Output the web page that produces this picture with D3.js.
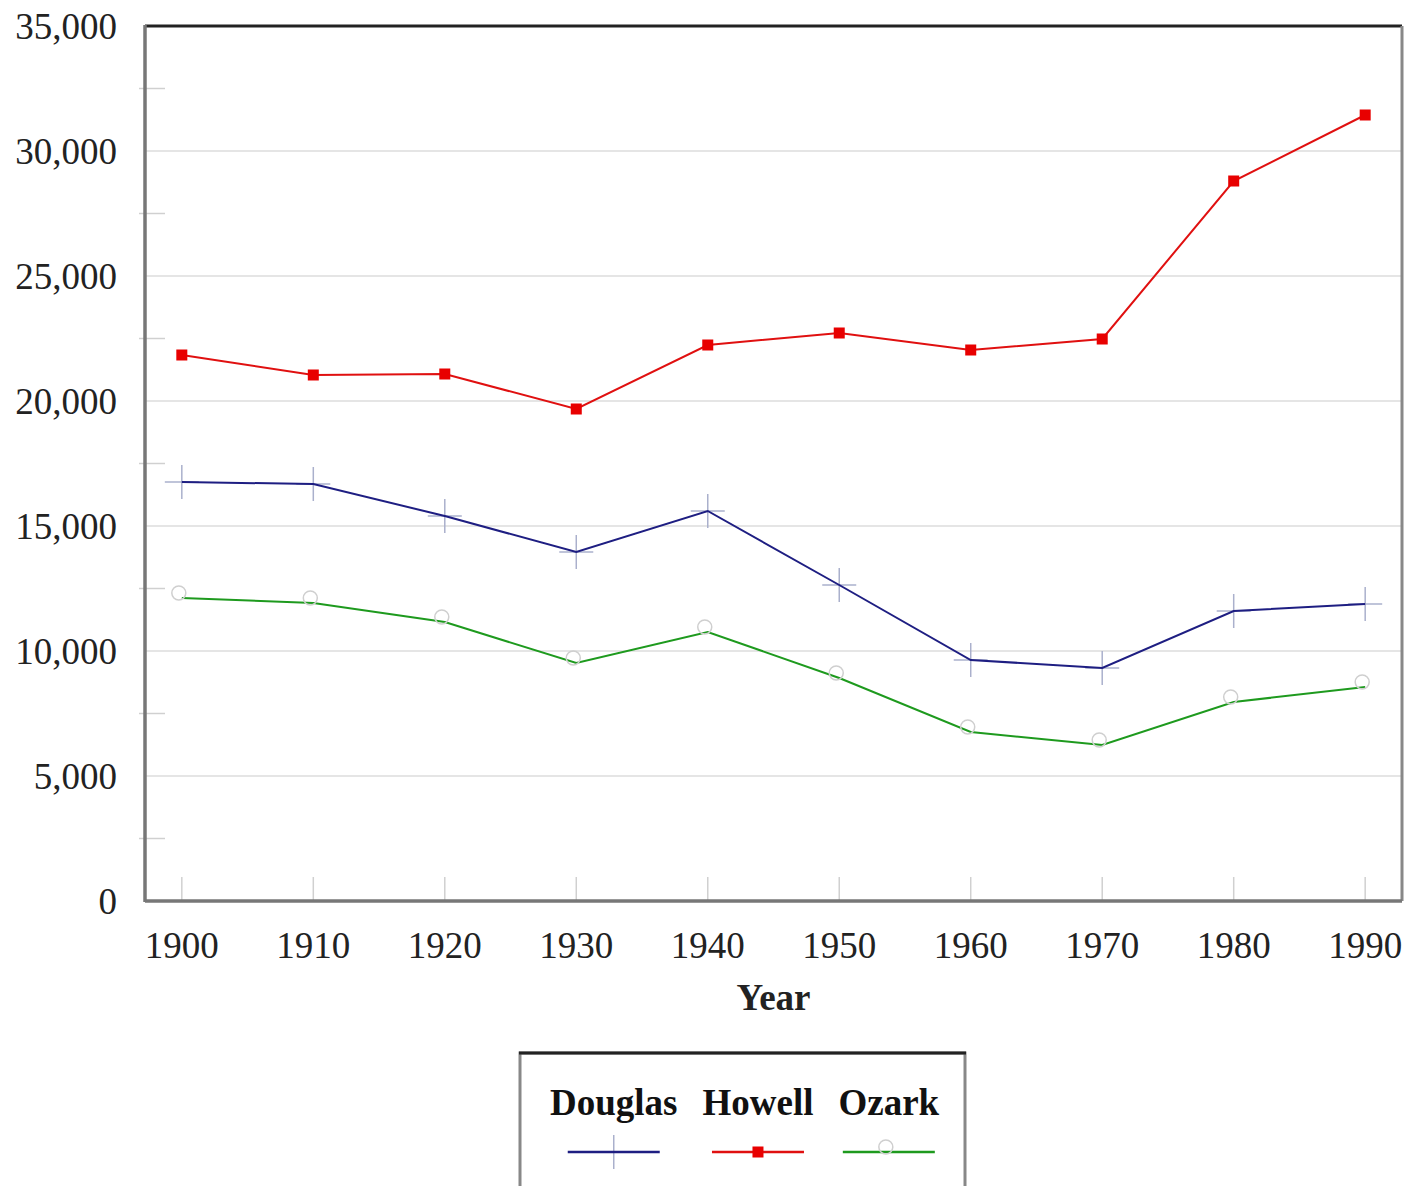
<!DOCTYPE html>
<html><head><meta charset="utf-8">
<script src="https://cdn.jsdelivr.net/npm/d3@7"></script>
<style>body{margin:0;background:#fff}svg{display:block}</style>
</head><body>
<svg id="c" width="1414" height="1186"></svg>
<script>
const years = [1900,1910,1920,1930,1940,1950,1960,1970,1980,1990];
const douglas = [16760,16680,15400,13960,15600,12640,9640,9320,11600,11880];
const howell  = [21840,21040,21080,19680,22240,22720,22040,22480,28800,31440];
const ozark   = [12120,11920,11160,9520,10760,8920,6760,6240,7960,8560];
const yTicks = [0,5000,10000,15000,20000,25000,30000,35000];
const seriesNames = ["Douglas","Howell","Ozark"];
const xTitle = "Year";

const svg = d3.select("#c");
const L=145, R=1402, T=26, B=901;
const x = d3.scalePoint().domain(years).range([L,R]).padding(0.28);
const y = d3.scaleLinear().domain([0,35000]).range([B,T]);
const font = "'Liberation Serif','Times New Roman',serif";

// gridlines
svg.append("g").selectAll("line").data(yTicks.filter(v=>v>0&&v<35000)).join("line")
  .attr("x1",L).attr("x2",R).attr("y1",d=>y(d)).attr("y2",d=>y(d))
  .attr("stroke","#dcdcdc").attr("stroke-width",1.5);
// minor y ticks
svg.append("g").selectAll("line").data(d3.range(2500,35000,5000)).join("line")
  .attr("x1",L-6).attr("x2",L+20).attr("y1",d=>y(d)).attr("y2",d=>y(d))
  .attr("stroke","#d0d0d0").attr("stroke-width",1.5);
// x ticks
svg.append("g").selectAll("line").data(years).join("line")
  .attr("x1",d=>x(d)).attr("x2",d=>x(d)).attr("y1",B-24).attr("y2",B)
  .attr("stroke","#d0d0d0").attr("stroke-width",1.5);

// frame
svg.append("line").attr("x1",L).attr("x2",R).attr("y1",T).attr("y2",T).attr("stroke","#222").attr("stroke-width",3);
svg.append("line").attr("x1",R).attr("x2",R).attr("y1",T).attr("y2",B).attr("stroke","#888").attr("stroke-width",3);
svg.append("line").attr("x1",L).attr("x2",R).attr("y1",B).attr("y2",B).attr("stroke","#777").attr("stroke-width",3.5);
svg.append("line").attr("x1",L).attr("x2",L).attr("y1",T-1).attr("y2",B+1).attr("stroke","#777").attr("stroke-width",3.5);

// y labels
svg.append("g").selectAll("text").data(yTicks).join("text")
  .attr("x",117).attr("y",d=>y(d)).attr("dy","0.35em").attr("text-anchor","end")
  .attr("font-family",font).attr("font-size",37).attr("fill","#222")
  .text(d=>d3.format(",")(d));
// x labels
svg.append("g").selectAll("text").data(years).join("text")
  .attr("x",d=>x(d)).attr("y",B+44).attr("dy","0.35em").attr("text-anchor","middle")
  .attr("font-family",font).attr("font-size",37).attr("fill","#222")
  .text(d=>d);
svg.append("text").attr("x",(L+R)/2).attr("y",997).attr("dy","0.35em").attr("text-anchor","middle")
  .attr("font-family",font).attr("font-size",37).attr("font-weight","bold").attr("fill","#222").text(xTitle);

const colors = ["#1e1e82","#e01010","#1e9a1e"];
const data = [douglas,howell,ozark];
const line = d3.line().x((d,i)=>x(years[i])).y(d=>y(d));

function marker(g, k, cx, cy){
  if(k===0){
    g.append("line").attr("x1",cx).attr("x2",cx).attr("y1",cy-17).attr("y2",cy+17).attr("stroke","#aab0cc").attr("stroke-width",1.5);
    g.append("line").attr("x1",cx-17).attr("x2",cx+17).attr("y1",cy).attr("y2",cy).attr("stroke","#aab0cc").attr("stroke-width",1.5);
  } else if(k===1){
    g.append("rect").attr("x",cx-5.5).attr("y",cy-5.5).attr("width",11).attr("height",11).attr("fill","#e80000");
  } else {
    g.append("circle").attr("cx",cx-3).attr("cy",cy-5).attr("r",7).attr("fill","none").attr("stroke","#cfcfcf").attr("stroke-width",1.5);
  }
}

data.forEach((vals,k)=>{
  const g = svg.append("g");
  if(k===0) vals.forEach((v,i)=>marker(g,k,x(years[i]),y(v)));
  g.append("path").attr("d",line(vals)).attr("fill","none").attr("stroke",colors[k]).attr("stroke-width",2);
  if(k!==0) vals.forEach((v,i)=>marker(g,k,x(years[i]),y(v)));
});

// legend
const lg = svg.append("g");
lg.append("rect").attr("x",520).attr("y",1053).attr("width",445).attr("height",160)
  .attr("fill","#fff").attr("stroke","#888").attr("stroke-width",3);
lg.append("line").attr("x1",519).attr("x2",966).attr("y1",1053).attr("y2",1053).attr("stroke","#222").attr("stroke-width",3);
let lx = 550;
seriesNames.forEach((name,k)=>{
  const t = lg.append("text").attr("x",lx).attr("y",1102).attr("dy","0.35em")
    .attr("font-family",font).attr("font-size",37).attr("font-weight","bold").attr("fill","#111").text(name);
  const w = t.node().getComputedTextLength();
  const cx = lx + w/2;
  if(k===0) marker(lg,k,cx,1152);
  lg.append("line").attr("x1",cx-46).attr("x2",cx+46).attr("y1",1152).attr("y2",1152).attr("stroke",colors[k]).attr("stroke-width",2.5);
  if(k!==0) marker(lg,k,cx,1152);
  lx += w + 25;
});
</script>
</body></html>
